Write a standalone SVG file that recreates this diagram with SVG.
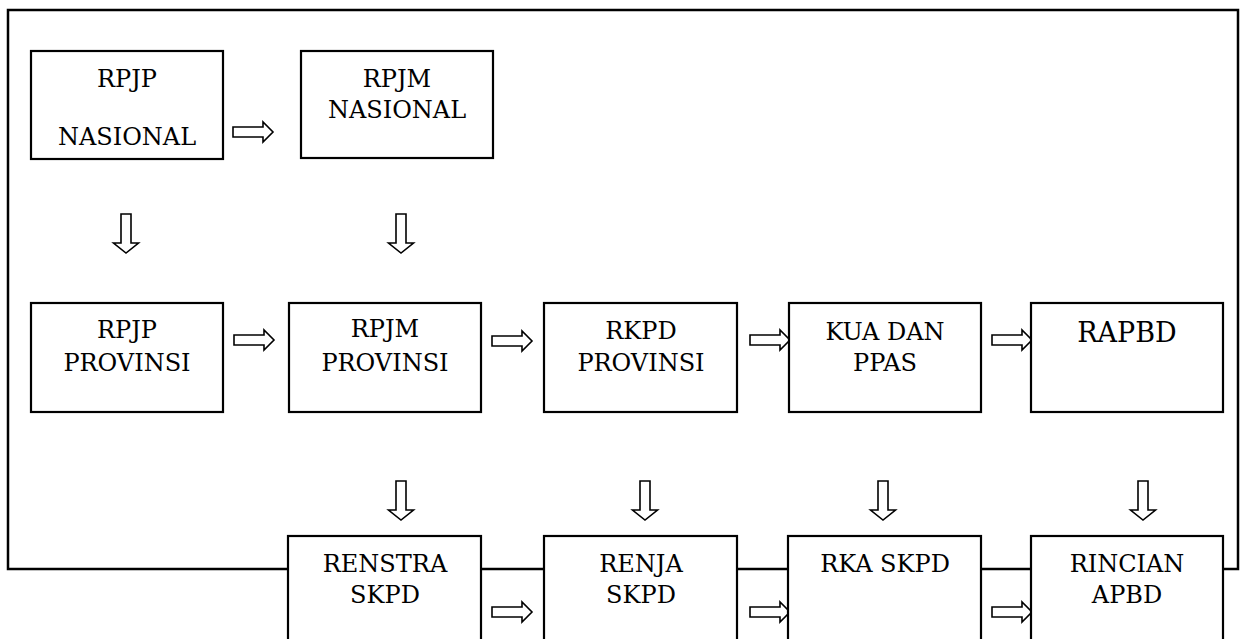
<svg xmlns="http://www.w3.org/2000/svg" xmlns:xlink="http://www.w3.org/1999/xlink" width="1244" height="639" viewBox="0 0 1244 639">
<style>
.box{fill:#fff;stroke:#000;stroke-width:2.2}
.frame{fill:none;stroke:#000;stroke-width:2.5}
.arr{fill:#fff;stroke:#000;stroke-width:1.6;stroke-linejoin:miter}
text{font-family:"DejaVu Serif","Liberation Serif",serif;font-size:24px;fill:#000;text-anchor:middle}
</style>
<defs>
<path id="ra" class="arr" d="M0,-5 H30 V-10 L40,0 L30,10 V5 H0 Z"/>
<path id="da" class="arr" d="M-5,0 V29 H-12.5 L0,39 L12.5,29 H5 V0 Z"/>
</defs>
<rect class="frame" x="8" y="10" width="1230" height="559"/>
<g id="connectors">
<use xlink:href="#ra" x="233" y="132"/>
<use xlink:href="#da" x="126" y="214"/>
<use xlink:href="#da" x="401" y="214"/>
<use xlink:href="#ra" x="234" y="340"/>
<use xlink:href="#ra" x="492" y="341"/>
<use xlink:href="#ra" x="750" y="340"/>
<use xlink:href="#ra" x="992" y="340"/>
<use xlink:href="#da" x="401" y="481"/>
<use xlink:href="#da" x="645" y="481"/>
<use xlink:href="#da" x="883" y="481"/>
<use xlink:href="#da" x="1143" y="481"/>
<use xlink:href="#ra" x="492" y="612"/>
<use xlink:href="#ra" x="750" y="612"/>
<use xlink:href="#ra" x="992" y="612"/>
</g>
<g id="rpjp-nasional"><rect class="box" x="31" y="51" width="192" height="108"/><text x="127" y="87">RPJP</text><text x="127" y="145">NASIONAL</text></g>
<g id="rpjm-nasional"><rect class="box" x="301" y="51" width="192" height="107"/><text x="397" y="87">RPJM</text><text x="397" y="118">NASIONAL</text></g>
<g id="rpjp-provinsi"><rect class="box" x="31" y="303" width="192" height="109"/><text x="127" y="338">RPJP</text><text x="127" y="371">PROVINSI</text></g>
<g id="rpjm-provinsi"><rect class="box" x="289" y="303" width="192" height="109"/><text x="385" y="337">RPJM</text><text x="385" y="371">PROVINSI</text></g>
<g id="rkpd-provinsi"><rect class="box" x="544" y="303" width="193" height="109"/><text x="641" y="339">RKPD</text><text x="641" y="371">PROVINSI</text></g>
<g id="kua-ppas"><rect class="box" x="789" y="303" width="192" height="109"/><text x="885" y="340">KUA DAN</text><text x="885" y="371">PPAS</text></g>
<g id="rapbd"><rect class="box" x="1031" y="303" width="192" height="109"/><text x="1127" y="342" style="font-size:27px">RAPBD</text></g>
<g id="renstra-skpd"><rect class="box" x="288" y="536" width="193" height="110"/><text x="385" y="572">RENSTRA</text><text x="385" y="603">SKPD</text></g>
<g id="renja-skpd"><rect class="box" x="544" y="536" width="193" height="110"/><text x="641" y="572">RENJA</text><text x="641" y="603">SKPD</text></g>
<g id="rka-skpd"><rect class="box" x="788" y="536" width="193" height="110"/><text x="885" y="572">RKA SKPD</text></g>
<g id="rincian-apbd"><rect class="box" x="1031" y="536" width="192" height="110"/><text x="1127" y="572">RINCIAN</text><text x="1127" y="603">APBD</text></g>
</svg>
